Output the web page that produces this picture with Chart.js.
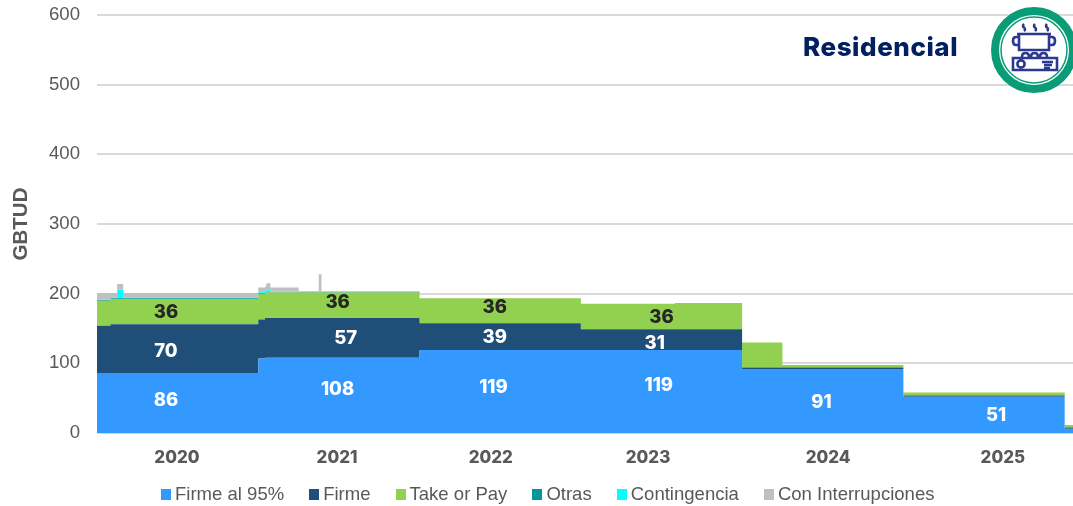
<!DOCTYPE html>
<html>
<head>
  <title>Residencial</title>
  <script src="https://cdn.jsdelivr.net/npm/chart.js"></script>
  <style>
    body{
        margin:0px;
        background:#fff;
        overflow:hidden;
    }
    #wrap{
        position:relative;
        width:1073px;
        height:506px;
    }
    #chart{
        position:absolute;
        left:0;
        top:0;
    }
    #title{
        position:absolute;
        left:803px;
        top:31px;
        font:800 26px Inter, sans-serif;
        letter-spacing:0.55px;
        color:#002060;
        white-space:nowrap;
    }
    #icon{
        position:absolute;
        left:984px;
        top:0px;
    }
    #legend{
        position:absolute;
        left:161px;
        top:483px;
        display:flex;
        font:18.55px "Liberation Sans", sans-serif;
        color:#595959;
        white-space:nowrap;
    }
    #legend span.item{
        display:flex;
        align-items:center;
        margin-right:25px;
    }
    #legend i{
        display:block;
        width:10px;
        height:11px;
        margin-right:4px;
    }
  </style>
</head>
<body>
<div id="wrap">
  <canvas id="chart" width="1073" height="506"></canvas>
  <div id="title">Residencial</div>
  <svg id="icon" width="100" height="100" viewBox="0 0 100 100">
    <circle cx="50" cy="50" r="39" fill="#fff" stroke="#0a9b77" stroke-width="8"/>
    <circle cx="50" cy="50" r="33" fill="#fff" stroke="#0a9b77" stroke-width="1.5"/>
    <g fill="none" stroke="#2b3990" stroke-width="2.6">
      <path d="M35 34h30v16H35zM35 37h-3q-3 0-3 4t3 4h3M65 37h3q3 0 3 4t-3 4h-3M33 34h34"/>
      <path d="M40 24q-2 2 0 3.5t0 3.5M51 24q-2 2 0 3.5t0 3.5M63 24q-2 2 0 3.5t0 3.5"/>
      <path d="M29 58h44v12H29zM38 57q0-4 3.5-4t3.5 4M47 57q0-4 3.5-4t3.5 4M56 57q0-4 3.5-4t3.5 4"/>
      <circle cx="37" cy="64" r="3.6"/>
      <path d="M58 62h11M60 65h8M60 68h6"/>
    </g>
  </svg>
  <div id="legend"></div>
</div>
<script>
// months counted from the left edge of the plot, each value holds until the next one
var months = [0, 1, 1.5, 1.95, 12, 12.5, 12.6, 12.9, 15, 16.5, 16.7, 24, 36, 43, 48, 51, 60, 72, 72.62];

var firme95 = [86, 86, 86, 86, 107, 108, 108, 108, 108, 108, 108, 119, 119, 119, 92, 92, 52, 6, 6];
var firme = [68, 70, 70, 70, 56, 57, 57, 57, 57, 57, 57, 38.5, 30, 30, 2, 2, 2, 2, 2];
var takeOrPay = [36, 36.5, 36.5, 36.5, 37, 36.5, 36.5, 36.5, 36.5, 36.5, 36.5, 36, 36.5, 37.5, 36, 3.6, 4, 3.5, 3.5];
var otras = [1, 1, 1, 1, 1, 1, 1, 1, 1, 1, 1, 0, 0, 0, 0, 0, 0, 0, 0];
var contingencia = [0.5, 0.5, 12, 0.5, 1, 1, 3, 0.5, 0.5, 0.5, 0.5, 0, 0, 0, 0, 0, 0, 0, 0];
var interrupciones = [9.5, 7, 8.5, 7, 7, 6.5, 9.5, 6, 1, 25, 1, 0, 0, 0, 0, 0, 0, 0, 0];

var years = ['2020', '2021', '2022', '2023', '2024', '2025'];
var yearMonths = [5.95, 17.86, 29.3, 41, 54.4, 67.4];

var labels95 = ['86', '108', '119', '119', '91', '51'];
var labels95At = [[5.13, 47.4], [17.9, 63.2], [29.5, 66.1], [41.8, 68.9], [53.9, 44.5], [66.9, 25.9]];
var labelsFirme = ['70', '57', '39', '31'];
var labelsFirmeAt = [[5.13, 117.6], [18.5, 136.4], [29.6, 137.6], [41.5, 129.2]];
var labelsTake = ['36', '36', '36', '36'];
var labelsTakeAt = [[5.13, 173.6], [17.9, 188.1], [29.6, 180.9], [42, 166.5]];

function serie(name, values, color, fill) {
  return {
    label: name,
    data: values.map(function (v, i) { return { x: months[i], y: v }; }),
    backgroundColor: color,
    borderColor: color,
    borderWidth: 0,
    pointRadius: 0,
    stepped: true,
    fill: fill
  };
}

// numbers written inside the areas
var areaLabels = {
  id: 'areaLabels',
  afterDatasetsDraw: function (chart) {
    var ctx = chart.ctx;
    var put = function (texts, at, color) {
      texts.forEach(function (t, i) {
        ctx.fillStyle = color;
        ctx.fillText(t, chart.scales.x.getPixelForValue(at[i][0]), chart.scales.y.getPixelForValue(at[i][1]));
      });
    };
    ctx.save();
    ctx.font = '800 18.5px Inter, sans-serif';
    ctx.textAlign = 'center';
    ctx.textBaseline = 'middle';
    put(labels95, labels95At, '#ffffff');
    put(labelsFirme, labelsFirmeAt, '#ffffff');
    put(labelsTake, labelsTakeAt, '#262626');
    ctx.restore();
  }
};

var chart = new Chart(document.getElementById('chart').getContext('2d'), {
  type: 'line',
  data: {
    datasets: [
      serie('Firme al 95%', firme95, '#3399ff', 'origin'),
      serie('Firme', firme, '#1f4e79', '-1'),
      serie('Take or Pay', takeOrPay, '#92d050', '-1'),
      serie('Otras', otras, '#009999', '-1'),
      serie('Contingencia', contingencia, '#00ffff', '-1'),
      serie('Con Interrupciones', interrupciones, '#bfbfbf', '-1')
    ]
  },
  plugins: [areaLabels],
  options: {
    responsive: false,
    animation: false,
    layout: { padding: { top: 15, right: 0, bottom: 0, left: 0 } },
    plugins: {
      legend: { display: false },
      tooltip: { enabled: false }
    },
    scales: {
      x: {
        type: 'linear',
        min: 0,
        max: 72.62,
        afterBuildTicks: function (scale) {
          scale.ticks = yearMonths.map(function (m) { return { value: m }; });
        },
        afterFit: function (scale) { scale.height = 73; },
        grid: { display: false },
        border: { display: false },
        ticks: {
          autoSkip: false,
          maxRotation: 0,
          padding: 7,
          color: '#595959',
          font: { family: 'Inter', size: 17, weight: '800' },
          callback: function (v) { return years[yearMonths.indexOf(v)]; }
        }
      },
      y: {
        stacked: true,
        min: 0,
        max: 600,
        afterFit: function (scale) {
          scale.width = 97;
          // tick padding would otherwise push the plot top down
          scale.paddingTop = 0;
          scale.paddingBottom = 0;
        },
        title: {
          display: true,
          text: 'GBTUD',
          color: '#595959',
          padding: { top: 9, bottom: 0 },
          font: { family: 'Liberation Sans', size: 20.5, weight: 'bold' }
        },
        grid: { color: '#d9d9d9', lineWidth: 2, drawTicks: false },
        border: { display: false },
        ticks: {
          stepSize: 100,
          padding: 17,
          color: '#595959',
          font: { family: 'Liberation Sans', size: 18.6 }
        }
      }
    }
  }
});

// legend built from the chart's own datasets
var legend = document.getElementById('legend');
chart.data.datasets.forEach(function (d) {
  var item = document.createElement('span');
  item.className = 'item';
  var box = document.createElement('i');
  box.style.background = d.backgroundColor;
  item.appendChild(box);
  item.appendChild(document.createTextNode(d.label));
  legend.appendChild(item);
});
</script>
</body>
</html>
